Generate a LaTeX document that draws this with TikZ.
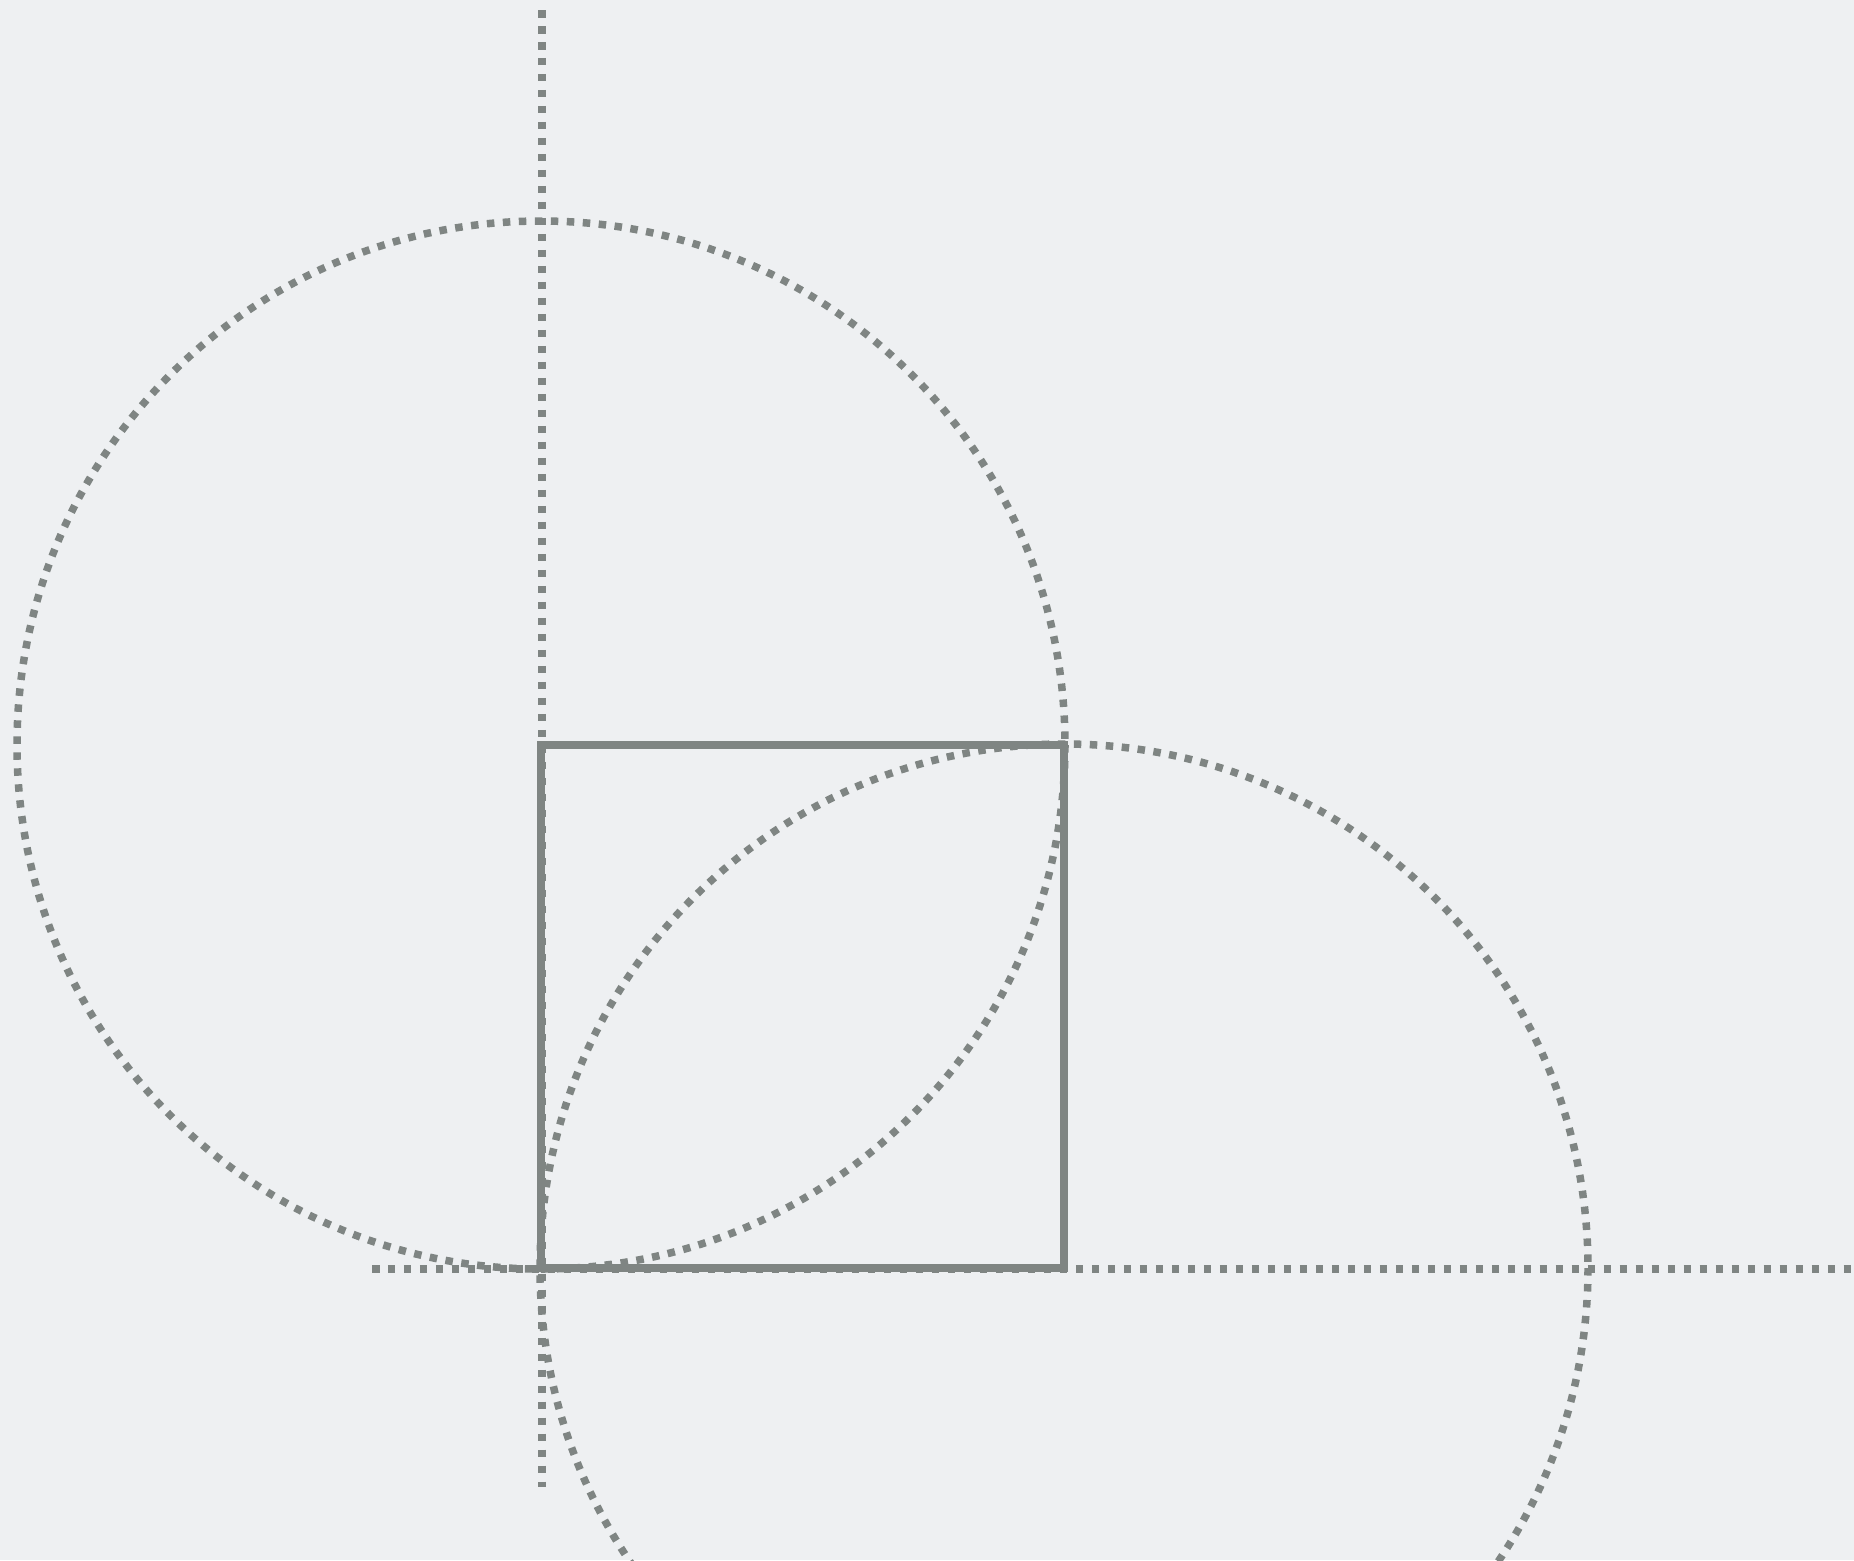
\documentclass[tikz,border=0pt]{standalone}
\definecolor{bgcol}{HTML}{EEF0F2}
\definecolor{linecol}{HTML}{7F8583}
\tikzset{
  dotline/.style={draw=linecol, line width=0.15cm, line cap=butt, dash pattern=on 0.15cm off 0.17cm},
  sqline/.style={draw=linecol, line width=0.16cm, line join=miter},
}
\begin{document}
\begin{tikzpicture}[x=0.02cm,y=-0.02cm]
\fill[bgcol] (0,0) rectangle (1854,1560);
\useasboundingbox (0,0) rectangle (1854,1560);
\clip (0,0) rectangle (1854,1560);
\coordinate (A) at (541,745);
\coordinate (B) at (1064,745);
\coordinate (C) at (1064,1268);
\coordinate (D) at (541,1268);
\coordinate (vtop) at (542,10);
\coordinate (vbot) at (542,1487);
\coordinate (hl) at (372,1269);
\coordinate (hr) at (1854,1269);
\draw[dotline] (vtop) -- (vbot);
\draw[dotline] (hl) -- (hr);
\draw[dotline] (A) circle (524);
\draw[dotline] (C) circle (524);
\draw[sqline] (A) -- (B) -- (C) -- (D) -- cycle;
\end{tikzpicture}
\end{document}
